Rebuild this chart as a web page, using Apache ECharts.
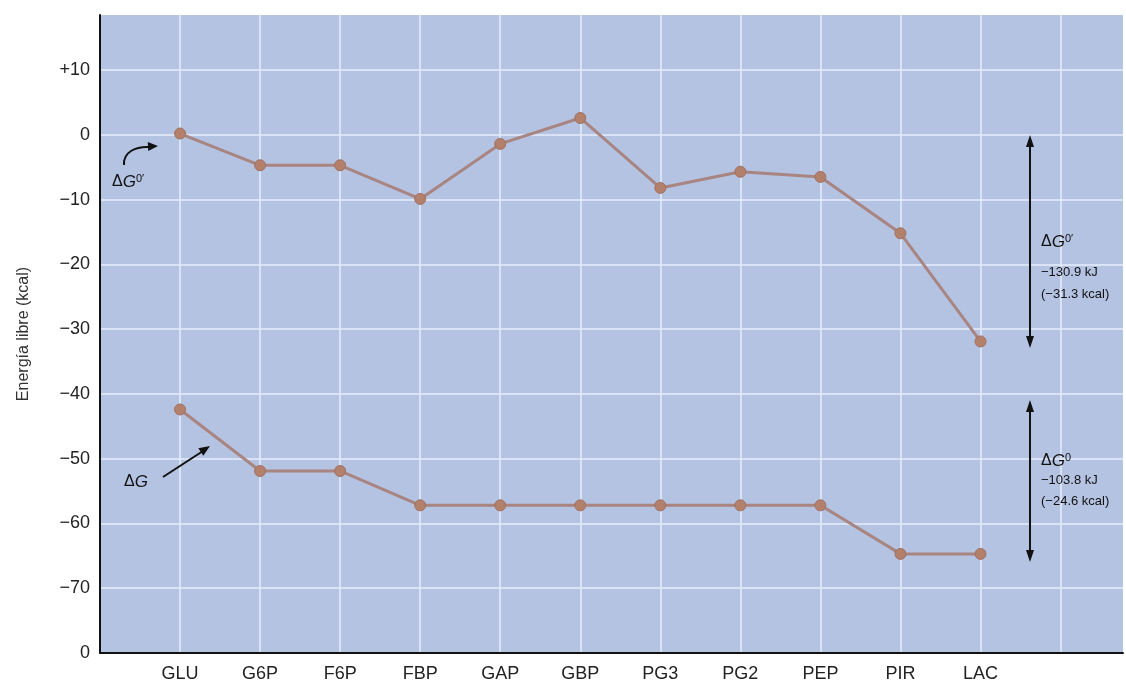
<!DOCTYPE html>
<html><head><meta charset="utf-8">
<script src="https://cdn.jsdelivr.net/npm/echarts@6/dist/echarts.min.js"></script>
<style>html,body{margin:0;padding:0;background:#fff}#c{width:1126px;height:685px}</style>
</head><body><div id="c"></div>
<script>
// ---- data ----
const categories = ['GLU','G6P','F6P','FBP','GAP','GBP','PG3','PG2','PEP','PIR','LAC'];
const dG0prime = [0.2, -4.7, -4.7, -9.9, -1.4, 2.6, -8.2, -5.7, -6.5, -15.2, -31.9];
const dGreal   = [-42.4, -51.9, -51.9, -57.2, -57.2, -57.2, -57.2, -57.2, -57.2, -64.7, -64.7];
const yTickValues = [-80, -70, -60, -50, -40, -30, -20, -10, 0, 10];
const yTickLabels = ['0', '\u221270', '\u221260', '\u221250', '\u221240', '\u221230', '\u221220', '\u221210', '0', '+10'];

const FONT = "'Liberation Sans', Arial, Helvetica, sans-serif";
const chart = echarts.init(document.getElementById('c'), null, {renderer: 'canvas'});

const gridLine = {show: true, showMinLine: false, showMaxLine: false,
  lineStyle: {color: 'rgba(228,235,250,0.8)', width: 2}};

function arrowHead(tx, ty, dx, dy, len, hw) {
  const n = Math.hypot(dx, dy); dx /= n; dy /= n;
  const bx = tx - dx * len, by = ty - dy * len;
  const px = -dy, py = dx;
  return {type: 'polygon', silent: true, z: 100,
    shape: {points: [[tx, ty], [bx + px * hw, by + py * hw], [bx - px * hw, by - py * hw]]},
    style: {fill: '#111'}};
}
const lineStyleAnn = {stroke: '#111', lineWidth: 2, fill: null};
const rich = {
  a: {fontSize: 16, fontFamily: FONT, fill: '#111', color: '#111'},
  g: {fontSize: 17, fontStyle: 'italic', fontFamily: FONT, fill: '#111', color: '#111'},
  s: {fontSize: 11, fontFamily: FONT, verticalAlign: 'top', fill: '#111', color: '#111'}
};
function richText(x, y, text) {
  return {type: 'text', silent: true, z: 100, style: {x, y, text, rich, fill: '#111',
    font: '16px ' + FONT, verticalAlign: 'middle'}};
}
function plainText(x, y, text, size) {
  return {type: 'text', silent: true, z: 100, style: {x, y, text, fill: '#111',
    font: size + 'px ' + FONT, verticalAlign: 'middle'}};
}

const graphics = [
  // left ΔG0' label and curved arrow
  richText(112, 182, '{a|\u0394}{g|G}{s|0\u2032}'),
  {type: 'bezierCurve', silent: true, z: 100,
   shape: {x1: 124, y1: 165, x2: 150, y2: 147, cpx1: 123, cpy1: 152, cpx2: 136, cpy2: 146},
   style: lineStyleAnn},
  arrowHead(158, 146, 1, -0.05, 10, 4.5),
  // left ΔG label and arrow
  richText(124, 482, '{a|\u0394}{g|G}'),
  {type: 'line', silent: true, z: 100, shape: {x1: 163, y1: 477, x2: 203, y2: 451}, style: lineStyleAnn},
  arrowHead(210, 446, 47, -31, 11, 4.5),
  // right double arrows
  {type: 'line', silent: true, z: 100, shape: {x1: 1030, y1: 140, x2: 1030, y2: 343}, style: lineStyleAnn},
  arrowHead(1030, 135, 0, -1, 12, 4),
  arrowHead(1030, 348, 0, 1, 12, 4),
  {type: 'line', silent: true, z: 100, shape: {x1: 1030, y1: 405, x2: 1030, y2: 557}, style: lineStyleAnn},
  arrowHead(1030, 400, 0, -1, 12, 4),
  arrowHead(1030, 562, 0, 1, 12, 4),
  // right texts
  richText(1041, 242, '{a|\u0394}{g|G}{s|0\u2032}'),
  plainText(1041, 272, '\u2212130.9 kJ', 13),
  plainText(1041, 294, '(\u221231.3 kcal)', 13),
  richText(1041, 461, '{a|\u0394}{g|G}{s|0}'),
  plainText(1041, 480, '\u2212103.8 kJ', 13),
  plainText(1041, 501, '(\u221224.6 kcal)', 13)
];

const seriesStyle = {
  type: 'line', symbol: 'circle', symbolSize: 11, animation: false,
  lineStyle: {color: '#a88580', width: 3},
  itemStyle: {color: '#b3806c', borderColor: '#a07060', borderWidth: 1},
  z: 3
};

chart.setOption({
  backgroundColor: '#ffffff',
  animation: false,
  textStyle: {fontFamily: FONT},
  grid: {left: 100, right: 0, top: 15, bottom: 32, show: true,
    backgroundColor: '#b5c3e3', borderWidth: 0},
  xAxis: {
    type: 'value', min: -1, max: 11.78, interval: 1,
    axisLine: {show: true, onZero: false, lineStyle: {color: '#111', width: 2}},
    axisTick: {show: false},
    splitLine: gridLine,
    axisLabel: {
      formatter: v => Number.isInteger(v) && categories[v] ? categories[v] : '',
      fontSize: 18, color: '#222', margin: 12, fontFamily: FONT
    }
  },
  yAxis: {
    type: 'value', min: -80, max: 18.5, interval: 10,
    name: 'Energía libre (kcal)', nameLocation: 'middle', nameGap: 68,
    nameTextStyle: {fontSize: 16, color: '#333', fontFamily: FONT},
    axisLine: {show: true, onZero: false, lineStyle: {color: '#111', width: 2}},
    axisTick: {show: false},
    splitLine: gridLine,
    axisLabel: {
      formatter: v => { const i = yTickValues.indexOf(v); return i >= 0 ? yTickLabels[i] : ''; },
      fontSize: 18, color: '#222', margin: 10, fontFamily: FONT
    }
  },
  series: [
    Object.assign({name: 'ΔG0′', data: categories.map((c, i) => [i, dG0prime[i]])}, seriesStyle),
    Object.assign({name: 'ΔG', data: categories.map((c, i) => [i, dGreal[i]])}, seriesStyle)
  ],
  graphic: graphics
});
</script></body></html>
